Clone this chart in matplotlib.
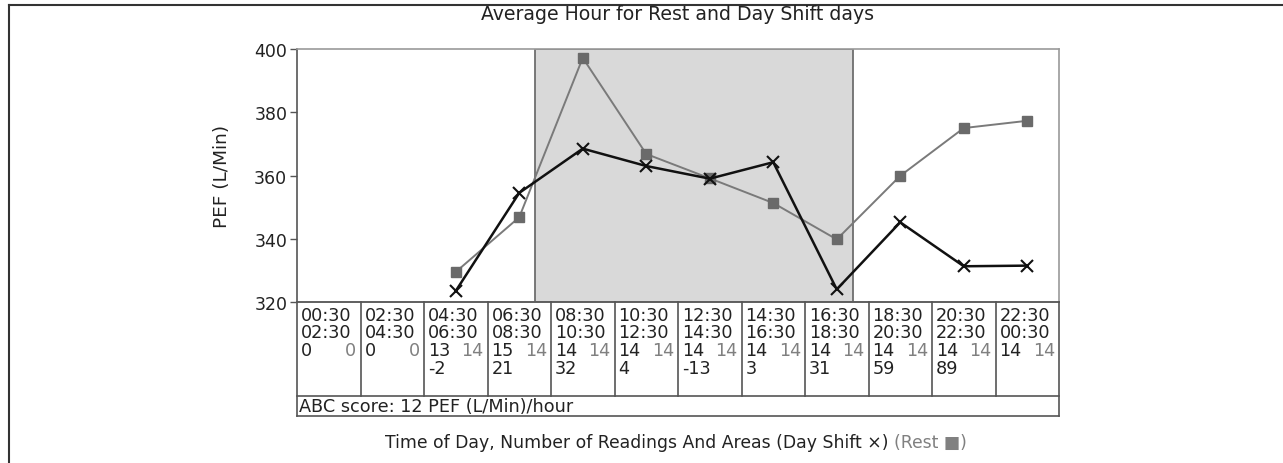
import matplotlib
matplotlib.use("Agg")
import matplotlib.pyplot as plt
from matplotlib.lines import Line2D
import numpy as np

plt.rcParams['font.family'] = ['DejaVu Sans']

# two-hour slots across the day
slot_start = ["00:30", "02:30", "04:30", "06:30", "08:30", "10:30",
              "12:30", "14:30", "16:30", "18:30", "20:30", "22:30"]
slot_end = ["02:30", "04:30", "06:30", "08:30", "10:30", "12:30",
            "14:30", "16:30", "18:30", "20:30", "22:30", "00:30"]
day_count = [0, 0, 13, 15, 14, 14, 14, 14, 14, 14, 14, 14]
rest_count = [0, 0, 14, 14, 14, 14, 14, 14, 14, 14, 14, 14]
areas = ["", "", "-2", "21", "32", "4", "-13", "3", "31", "59", "89", ""]

# average PEF per slot (None = no readings)
day_pef = [None, None, 323.5, 354.5, 368.5, 363.0, 359.0, 364.2, 324.0, 345.2, 331.3, 331.5]
rest_pef = [None, None, 329.5, 346.8, 397.2, 366.8, 359.1, 351.3, 339.8, 359.9, 375.0, 377.3]

shift_start, shift_end = 8.0, 18.0  # day shift hours
abc_score = 12

W, H = 1283, 464
fig = plt.figure(figsize=(W / 100, H / 100), dpi=100)

def fx(px):
    return px / W

def fy(py):
    return 1 - py / H

# outer frame: top and left edges only
fig.add_artist(Line2D([fx(9), 1], [fy(6), fy(6)], color="#333333", lw=1.5))
fig.add_artist(Line2D([fx(9), fx(9)], [fy(6), 0], color="#333333", lw=1.5))

left, right, top, bottom = 297, 1059, 50, 303
ax = fig.add_axes([fx(left), fy(bottom), fx(right - left), fy(top) - fy(bottom)])

n = len(slot_start)
xs = np.arange(n) + 0.5

def to_x(hour):
    return (hour - 0.5) / 2.0

ax.axvspan(to_x(shift_start), to_x(shift_end), facecolor="#d9d9d9",
           edgecolor="#6e6e6e", lw=1.3, zorder=0)

rx = [x for x, v in zip(xs, rest_pef) if v is not None]
ry = [v for v in rest_pef if v is not None]
dx = [x for x, v in zip(xs, day_pef) if v is not None]
dy = [v for v in day_pef if v is not None]

ax.plot(rx, ry, color="#7a7a7a", lw=1.4, marker="s", ms=7,
        markerfacecolor="#6a6a6a", markeredgecolor="#6a6a6a", zorder=2)
ax.plot(dx, dy, color="#111111", lw=1.8, marker="x", ms=8, mew=1.5, zorder=3)

ax.set_xlim(0, n)
ax.set_ylim(320, 400)
ax.set_yticks([320, 340, 360, 380, 400])
ax.set_xticks([])
ax.tick_params(axis="y", length=5, width=1, color="#555555", labelsize=12.5,
               labelcolor="#222222", pad=2)
for s in ax.spines.values():
    s.set_color("#9a9a9a")
    s.set_linewidth(1.2)
ax.spines["left"].set_color("#555555")
ax.set_ylabel("PEF (L/Min)", fontsize=13.3, color="#222222", labelpad=17)

fig.text(fx(677), fy(14), "Average Hour for Rest and Day Shift days",
         ha="center", va="center", fontsize=13.6, color="#222222")

# table below the plot
tab_top, tab_mid, tab_bot = 303, 397, 417
tb = fig.add_axes([fx(left), fy(tab_bot), fx(right - left), fy(tab_top) - fy(tab_bot)])
tb.set_xlim(0, n)
tb.set_ylim(tab_bot, tab_top)
tb.axis("off")
line_c = "#555555"
tb.plot([0, n], [tab_top, tab_top], color=line_c, lw=1.2, clip_on=False)
tb.plot([0, n], [tab_mid, tab_mid], color=line_c, lw=1.2, clip_on=False)
tb.plot([0, n], [tab_bot, tab_bot], color=line_c, lw=1.2, clip_on=False)
for k in range(n + 1):
    y_end = tab_bot if k in (0, n) else tab_mid
    tb.plot([k, k], [tab_top, y_end], color=line_c, lw=1.2, clip_on=False)

col_w = (right - left) / n
pad_l = 4 / col_w
pad_r = 4 / col_w
rows_y = [316, 333, 351, 369]
fs = 12.7
for k in range(n):
    tb.text(k + pad_l, rows_y[0], slot_start[k], ha="left", va="center", fontsize=fs, color="#222222")
    tb.text(k + pad_l, rows_y[1], slot_end[k], ha="left", va="center", fontsize=fs, color="#222222")
    tb.text(k + pad_l, rows_y[2], str(day_count[k]), ha="left", va="center", fontsize=fs, color="#222222")
    tb.text(k + 1 - pad_r, rows_y[2], str(rest_count[k]), ha="right", va="center", fontsize=fs, color="#808080")
    tb.text(k + pad_l, rows_y[3], areas[k], ha="left", va="center", fontsize=fs, color="#222222")
tb.text(pad_l * 0.5, (tab_mid + tab_bot) / 2, f"ABC score: {abc_score} PEF (L/Min)/hour",
        ha="left", va="center", fontsize=fs, color="#222222")

# x label: day shift part in black, rest part in grey right after it
t1 = fig.text(fx(385), fy(443), "Time of Day, Number of Readings And Areas (Day Shift \u00d7) ",
              ha="left", va="center", fontsize=12.45, color="#222222")
fig.add_artist(plt.Annotation("(Rest \u25a0)", xy=(1, 0), xycoords=t1, ha="left", va="bottom",
                              fontsize=12.45, color="#808080"))

fig.savefig("out.png", dpi=100)
